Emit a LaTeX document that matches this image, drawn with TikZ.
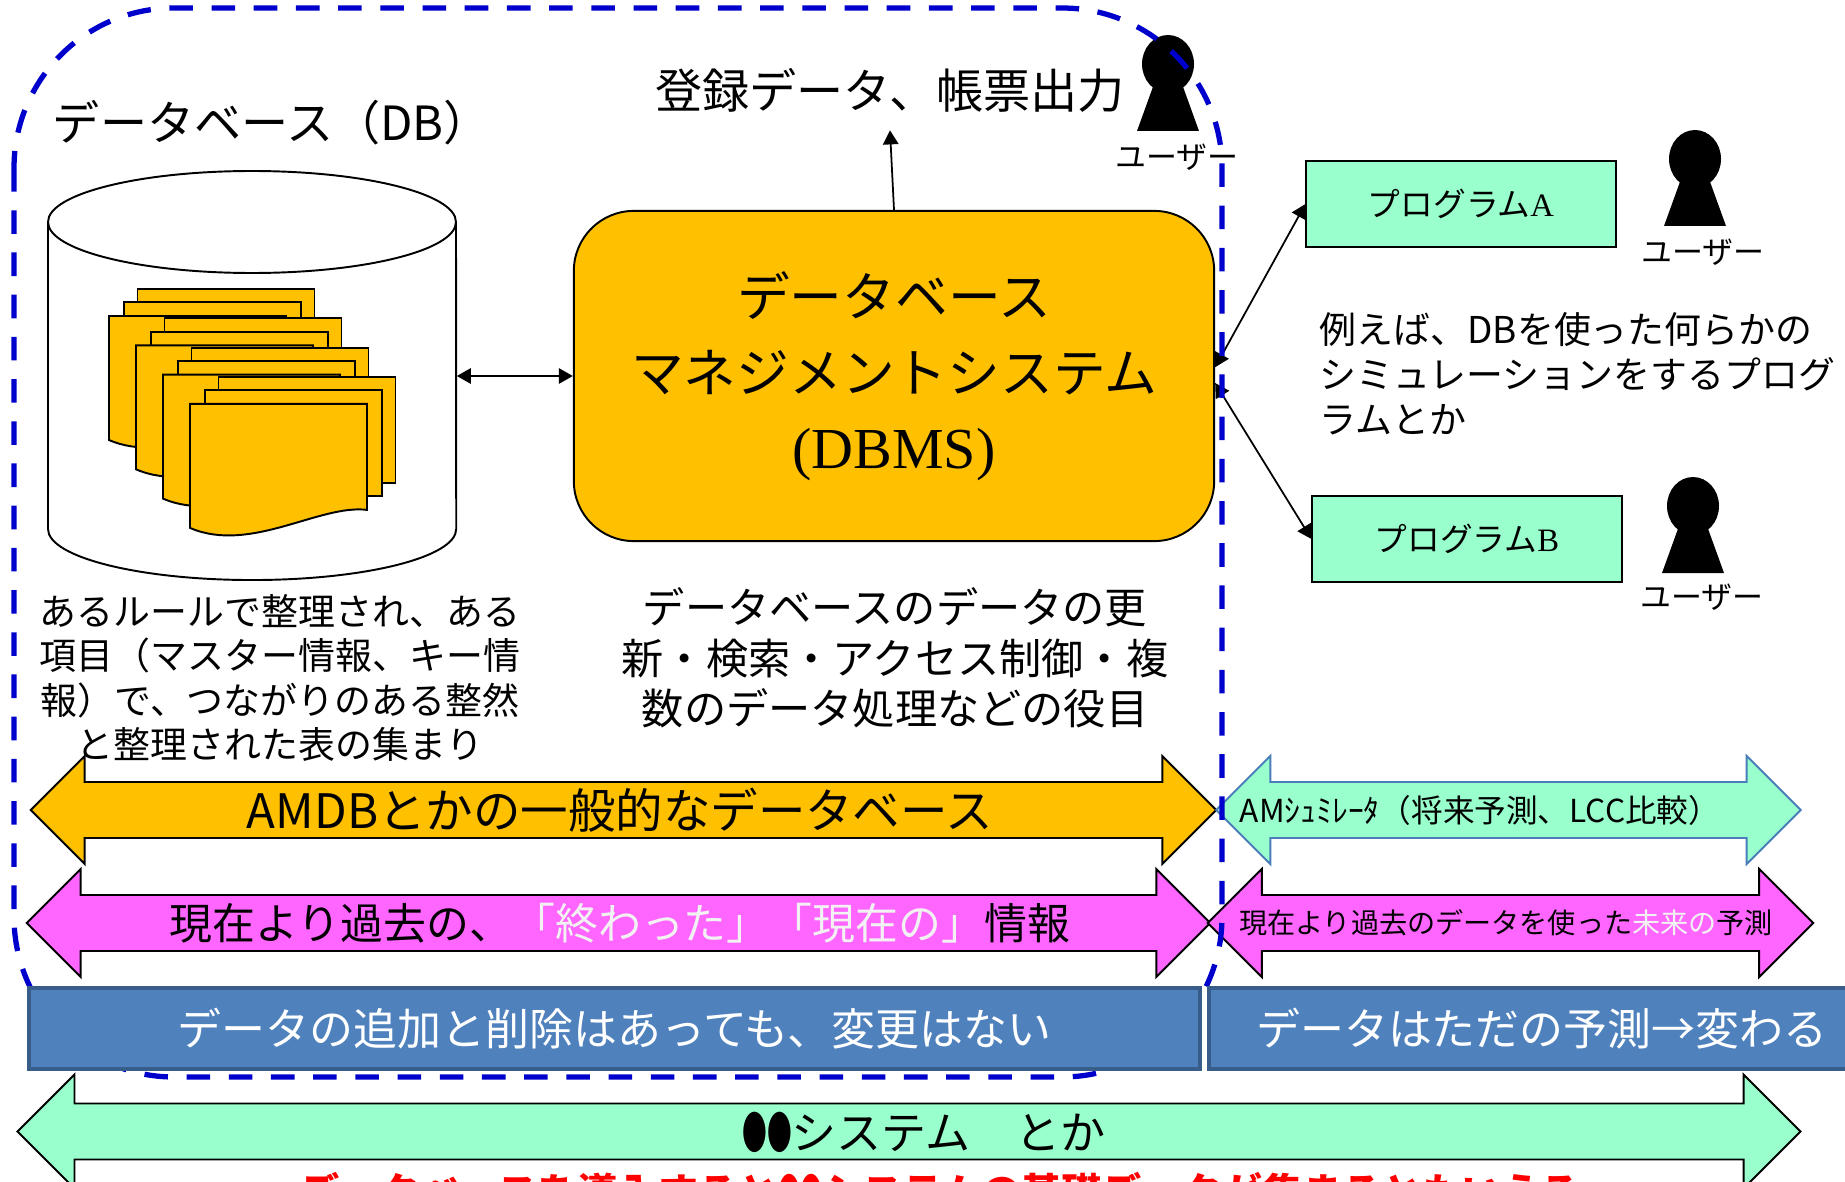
\documentclass[tikz,border=0pt]{standalone}
\usepackage{fontspec}
\usepackage{tikz}
\usepackage{xcolor}
\usetikzlibrary{shapes.arrows,arrows.meta}
\setmainfont{Liberation Serif}
\newfontfamily\jp{Noto Sans CJK JP}
\newcommand\jsz[2]{\jp\fontsize{#1pt}{#2pt}\selectfont}
\newcommand\twodots{\scalebox{.55}[1]{●●}}
\definecolor{dbyel}{HTML}{FFC000}
\definecolor{mint}{HTML}{99FFCC}
\definecolor{magen}{HTML}{FF66FF}
\definecolor{barblue}{HTML}{4F81BD}
\definecolor{barline}{HTML}{385D8A}
\definecolor{dashblue}{HTML}{0000CC}
\definecolor{steel}{HTML}{4A7EBB}
\definecolor{offwhite}{HTML}{F2F2F2}

\begin{document}
\begin{tikzpicture}[x=0.01cm,y=-0.01cm,>={Triangle[length=4pt,width=4.4pt]}]
  \tikzstyle{sheet}=[draw,fill=dbyel,line width=.55pt]
  \tikzstyle{prog}=[draw,fill=mint,line width=.55pt,minimum width=3.09cm,minimum height=.86cm,font=\jsz{9.3}{11}]
  \tikzstyle{bigarr}=[double arrow,draw,double arrow head extend=.26cm,inner xsep=0pt,inner ysep=.27cm,line width=.55pt]
  \tikzstyle{blbar}=[fill=barblue,draw=barline,line width=1.1pt,minimum height=.81cm,text=white,font=\jsz{12.5}{15}]
  \tikzstyle{who}=[font=\jsz{8.8}{10}]
  \tikzset{person/.pic={
    \fill (-14,20) -- (14,20) -- (31,67) -- (-31,67) -- cycle;
    \fill (0,0) ellipse [x radius=26,y radius=29];}}
  \useasboundingbox (0,0) rectangle (1845,1182);
  \clip (0,0) rectangle (1845,1182);
  \fill[white] (0,0) rectangle (1845,1182);

  \draw[fill=white,line width=.55pt] (48,222) -- (48,529)
    arc[start angle=180,end angle=360,x radius=2.04cm,y radius=.51cm] -- (456,222);
  \draw[fill=white,line width=.55pt] (252,222) ellipse [x radius=204,y radius=51];
  \node (db) [minimum width=4.08cm,minimum height=3.07cm,inner sep=0pt] at (252,376) {};
  \foreach \g in {0,...,3}{
    \begin{scope}[shift={(109+27*\g,316+29.3*\g)}]
      \draw[sheet] (28.5,-27) rectangle ++(177,106);
      \draw[sheet] (14.7,-13.7) rectangle ++(177,106);
      \draw[sheet] (0,0) -- (177,0) -- (177,106) .. controls (130,100) and (60,150) .. (0,124) -- cycle;
    \end{scope}
  }
  \node (dbt) [font=\jsz{13.4}{16}] at (272,123) {データベース（DB）};

  \node (dbms) [draw,fill=dbyel,rounded corners=.6cm,line width=.55pt,minimum width=6.4cm,minimum height=3.3cm,align=center,font=\jsz{15}{21.6}] at (894,376)
    {データベース\\マネジメントシステム\\{\rmfamily\fontsize{16.5pt}{21.6pt}\selectfont(DBMS)}};
  \node (out) [font=\jsz{13.4}{16},inner ysep=5pt] at (890,90) {登録データ、帳票出力};
  \draw[->,line width=.5pt] (dbms.north) -- (out.south);
  \draw[<->,line width=.5pt] (db.east) -- (dbms.west);

  \pic (u1) at (1168,64) {person};
  \node (u1l) [who] at (1177,157) {ユーザー};
  \pic (u2) at (1695,159) {person};
  \node (u2l) [who] at (1703,252) {ユーザー};
  \pic (u3) at (1693,506) {person};
  \node (u3l) [who] at (1702,597) {ユーザー};

  \node (pA) [prog] at (1461,204) {プログラム{\rmfamily A}};
  \node (pB) [prog] at (1467,539) {プログラム{\rmfamily B}};
  \draw[<->,line width=.5pt] ([yshift=2.5pt]dbms.east) -- (pA.west);
  \draw[<->,line width=.5pt] ([yshift=-2pt]dbms.east) -- (pB.west);
  \node (sim) [font=\jsz{10.5}{12.8},align=left,anchor=west,inner sep=0pt] at (1319,374)
    {例えば、DBを使った何らかの\\シミュレーションをするプログ\\ラムとか};

  \node (rule) [font=\jsz{10.5}{12.6},align=center] at (280,678)
    {あるルールで整理され、ある\\項目（マスター情報、キー情\\報）で、つながりのある整然\\と整理された表の集まり};
  \node (role) [font=\jsz{12}{14.4},align=center] at (895,658)
    {データベースのデータの更\\新・検索・アクセス制御・複\\数のデータ処理などの役目};

  \node (amdb) [bigarr,fill=dbyel,minimum height=11.85cm] at (623.5,810) {};
  \node (amdbt) [font=\jsz{13.5}{16}] at (620,810) {AMDBとかの一般的なデータベース};
  \node (past) [bigarr,fill=magen,minimum height=11.83cm] at (618.5,923) {};
  \node (pastt) [font=\jsz{12.2}{15}] at (620,923) {現在より過去の、\textcolor{offwhite}{「終わった」「現在の」}情報};
  \node (amsim) [bigarr,fill=mint,draw=steel,minimum height=5.84cm] at (1508.5,810) {};
  \node (amsimt) [font=\jsz{9}{11}] at (1480,810) {AMｼｭﾐﾚｰﾀ（将来予測、LCC比較）};
  \node (fut) [bigarr,fill=magen,minimum height=6.05cm] at (1510.5,923) {};
  \node (futt) [font=\jsz{8}{10}] at (1506,923) {現在より過去のデータを使った\textcolor{offwhite}{未来の}予測};

  \draw[dashblue,line width=1.5pt,dash pattern=on 6.7pt off 5.3pt,rounded corners=1.6cm] (14,8) rectangle (1222,1077);

  \node (keep) [blbar,minimum width=11.71cm] at (614.5,1028.5) {データの追加と削除はあっても、変更はない};
  \node (chg) [blbar,minimum width=6.66cm] at (1542,1028.5) {データはただの予測→変わる};

  \node (sys) [bigarr,fill=mint,minimum height=17.82cm,double arrow head extend=.29cm] at (909,1131.5) {};
  \node (syst) [font=\jsz{12.8}{15}] at (924,1132) {\twodots システム　とか};
  \node (base) [font=\jsz{11.4}{14}\bfseries,text=red] at (940,1192)
    {データベースを導入すると\twodots システムの基礎データが集まるともいえる};
\end{tikzpicture}
\end{document}
